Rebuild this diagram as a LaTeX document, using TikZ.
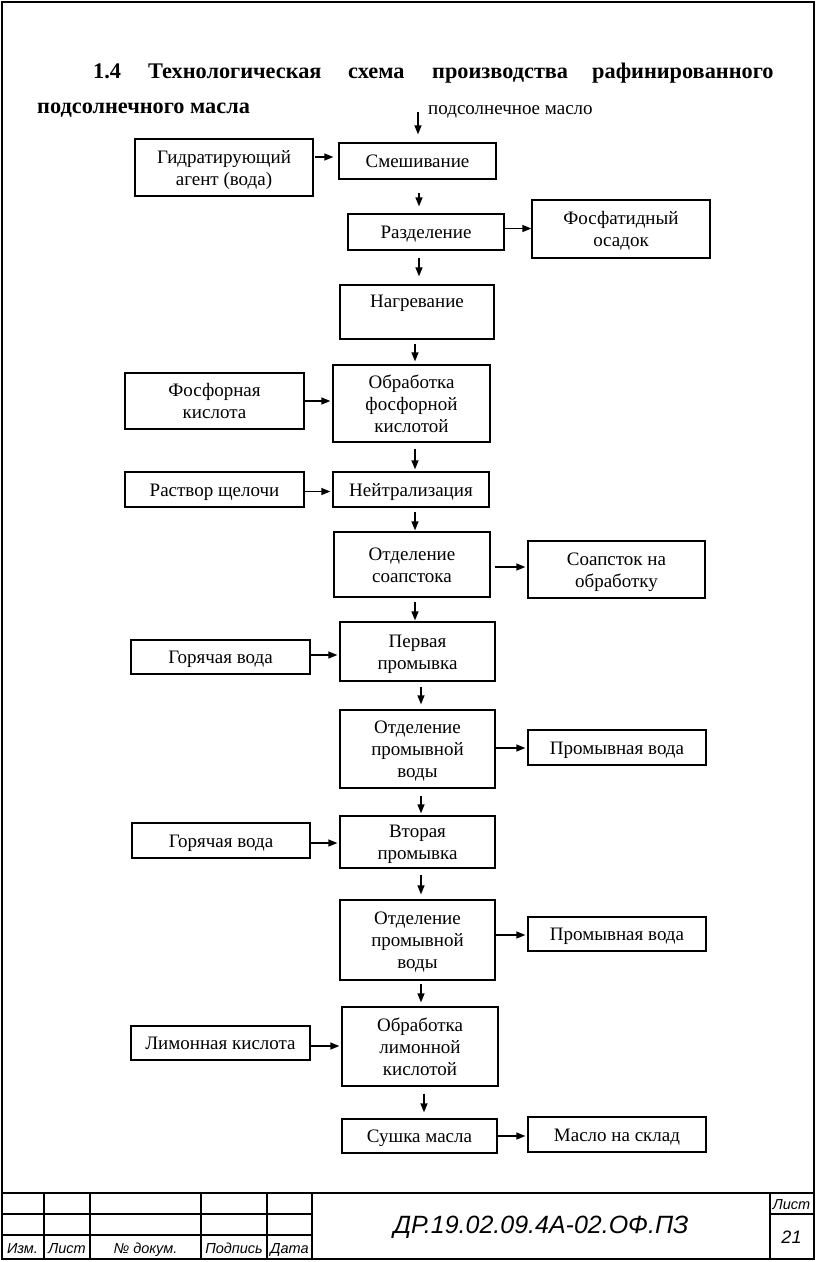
\documentclass[tikz,border=0pt]{standalone}
\usepackage{fontspec}
\setmainfont{Liberation Serif}
\newfontfamily\gost{Liberation Sans}
\usetikzlibrary{arrows.meta}
\newcommand{\bx}[1]{\raisebox{-2.5pt}[\height][\depth]{\begin{tabular}{@{}c@{}}#1\end{tabular}}}
\begin{document}
\begin{tikzpicture}[x=1pt,y=-1pt,
 box/.style={draw, line width=1.3pt, inner sep=0pt, font=\fontsize{19}{22}\selectfont},
 arr/.style={line width=1.3pt, -{Triangle[length=9pt,width=7pt]}},
 frame/.style={line width=2pt},
 tb/.style={font=\gost\itshape\fontsize{14.5}{14.5}\selectfont, inner sep=0pt, anchor=base},
 ttl/.style={anchor=base west, inner sep=0pt, font=\bfseries\fontsize{22.3}{22.3}\selectfont}
]
\useasboundingbox (0,0) rectangle (816,1262);
% page frame
\draw[frame] (1.5,1.5) rectangle (813.5,1259);
% title
\node[ttl] (t1) at (93,78) {1.4};
\node[ttl] (t2) at (148,78) {Технологическая};
\node[ttl] (t3) at (348,78) {схема};
\node[ttl] (t4) at (432,78) {производства};
\node[ttl] (t5) at (592,78) {рафинированного};
\node[ttl] (t6) at (37,113) {подсолнечного масла};
\node[anchor=base west, inner sep=0pt, font=\fontsize{19}{22}\selectfont] (oil) at (428,114) {подсолнечное масло};
\coordinate (oilin) at (418,112);
% boxes
\node[box, minimum width=178pt, minimum height=57pt] (gid) at (224,167.5) {\bx{Гидратирующий\\агент (вода)}};
\node[box, minimum width=157pt, minimum height=36pt] (mix) at (417.5,161) {\bx{Смешивание}};
\node[box, minimum width=156pt, minimum height=36pt] (sep) at (426,232) {\bx{Разделение}};
\node[box, minimum width=178pt, minimum height=58pt] (phos) at (621,229) {\bx{Фосфатидный\\осадок}};
\node[box, minimum width=154pt, minimum height=54pt] (heat) at (417,312) {\bx{Нагревание\\~}};
\node[box, minimum width=157pt, minimum height=77pt] (acidtr) at (411.5,403.5) {\bx{Обработка\\фосфорной\\кислотой}};
\node[box, minimum width=179pt, minimum height=56pt] (acid) at (214.5,401) {\bx{Фосфорная\\кислота}};
\node[box, minimum width=179pt, minimum height=35pt] (alk) at (214.5,489.5) {\bx{Раствор щелочи}};
\node[box, minimum width=156pt, minimum height=35pt] (neut) at (411,489.5) {\bx{Нейтрализация}};
\node[box, minimum width=156pt, minimum height=65pt] (soapsep) at (412,564.5) {\bx{Отделение\\соапстока}};
\node[box, minimum width=177pt, minimum height=57pt] (soap) at (616.5,569.5) {\bx{Соапсток на\\обработку}};
\node[box, minimum width=155pt, minimum height=59pt] (wash1) at (417.5,651.5) {\bx{Первая\\промывка}};
\node[box, minimum width=179pt, minimum height=34pt] (hot1) at (220.5,657) {\bx{Горячая вода}};
\node[box, minimum width=155pt, minimum height=78pt] (wsep1) at (417.5,749) {\bx{Отделение\\промывной\\воды}};
\node[box, minimum width=178pt, minimum height=35pt] (ww1) at (617,747.5) {\bx{Промывная вода}};
\node[box, minimum width=155pt, minimum height=52pt] (wash2) at (417.5,842) {\bx{Вторая\\промывка}};
\node[box, minimum width=178pt, minimum height=35pt] (hot2) at (221,840.5) {\bx{Горячая вода}};
\node[box, minimum width=155pt, minimum height=80pt] (wsep2) at (417.5,940) {\bx{Отделение\\промывной\\воды}};
\node[box, minimum width=178pt, minimum height=34pt] (ww2) at (617,934) {\bx{Промывная вода}};
\node[box, minimum width=156pt, minimum height=79pt] (citr) at (420,1046.5) {\bx{Обработка\\лимонной\\кислотой}};
\node[box, minimum width=179pt, minimum height=34pt] (cit) at (220.5,1043) {\bx{Лимонная кислота}};
\node[box, minimum width=155pt, minimum height=34pt] (dry) at (419.5,1136) {\bx{Сушка масла}};
\node[box, minimum width=178pt, minimum height=35pt] (store) at (617,1134.5) {\bx{Масло на склад}};
% vertical arrows
\draw[arr, shorten >=8pt] (oilin) -- (oilin |- mix.north);
\draw[arr, shorten <=13pt, shorten >=7pt] (mix.south -| 419,0) -- (sep.north -| 419,0);
\draw[arr, shorten <=7pt, shorten >=8pt] (sep.south -| 419,0) -- (heat.north -| 419,0);
\draw[arr, shorten <=4pt, shorten >=3pt] (heat.south -| 415,0) -- (acidtr.north -| 415,0);
\draw[arr, shorten <=6pt, shorten >=2pt] (acidtr.south -| 415,0) -- (neut.north -| 415,0);
\draw[arr, shorten <=4pt, shorten >=1pt] (neut.south -| 415,0) -- (soapsep.north -| 415,0);
\draw[arr, shorten <=4pt, shorten >=1pt] (soapsep.south -| 415,0) -- (wash1.north -| 415,0);
\draw[arr, shorten <=5pt, shorten >=5pt] (wash1.south -| 421,0) -- (wsep1.north -| 421,0);
\draw[arr, shorten <=7pt, shorten >=2pt] (wsep1.south -| 421,0) -- (wash2.north -| 421,0);
\draw[arr, shorten <=6pt, shorten >=5pt] (wash2.south -| 421,0) -- (wsep2.north -| 421,0);
\draw[arr, shorten <=3pt, shorten >=4pt] (wsep2.south -| 421,0) -- (citr.north -| 421,0);
\draw[arr, shorten <=7pt, shorten >=6pt] (citr.south -| 424,0) -- (dry.north -| 424,0);
% horizontal arrows
\draw[arr, shorten <=1pt, shorten >=5pt] (gid.east |- 0,157) -- (mix.west |- 0,157);
\draw[arr] (sep.east |- 0,228.5) -- (phos.west |- 0,228.5);
\draw[arr, shorten >=2pt] (acid.east |- 0,401) -- (acidtr.west |- 0,401);
\draw[arr, shorten >=2pt] (alk.east |- 0,491.5) -- (neut.west |- 0,491.5);
\draw[arr, shorten <=4pt, shorten >=2pt] (soapsep.east |- 0,567) -- (soap.west |- 0,567);
\draw[arr, shorten >=2pt] (hot1.east |- 0,655) -- (wash1.west |- 0,655);
\draw[arr, shorten >=2pt] (wsep1.east |- 0,748) -- (ww1.west |- 0,748);
\draw[arr, shorten >=2pt] (hot2.east |- 0,843) -- (wash2.west |- 0,843);
\draw[arr, shorten >=2pt] (wsep2.east |- 0,935) -- (ww2.west |- 0,935);
\draw[arr, shorten >=2pt] (cit.east |- 0,1046) -- (citr.west |- 0,1046);
\draw[arr, shorten >=2pt] (dry.east |- 0,1136) -- (store.west |- 0,1136);
% title block
\draw[frame] (1.5,1193) -- (813.5,1193);
\draw[frame] (1.5,1214) -- (312,1214);
\draw[frame] (1.5,1235) -- (312,1235);
\draw[frame] (770,1214) -- (813.5,1214);
\foreach \xx in {44,90,201,267,312,770} \draw[frame] (\xx,1193) -- (\xx,1259);
\node[tb] (c1) at (22.5,1253) {Изм.};
\node[tb] (c2) at (67,1253) {Лист};
\node[tb] (c3) at (145.5,1253) {№ докум.};
\node[tb] (c4) at (234,1253) {Подпись};
\node[tb] (c5) at (289.5,1253) {Дата};
\node[tb] (c6) at (791.5,1209) {Лист};
\node[tb, font=\gost\itshape\fontsize{18}{18}\selectfont] (c7) at (791.5,1243.5) {21};
\node[tb, font=\gost\itshape\fontsize{25}{25}\selectfont] (code) at (541,1233.5) {ДР.19.02.09.4А-02.ОФ.ПЗ};
\end{tikzpicture}
\end{document}
